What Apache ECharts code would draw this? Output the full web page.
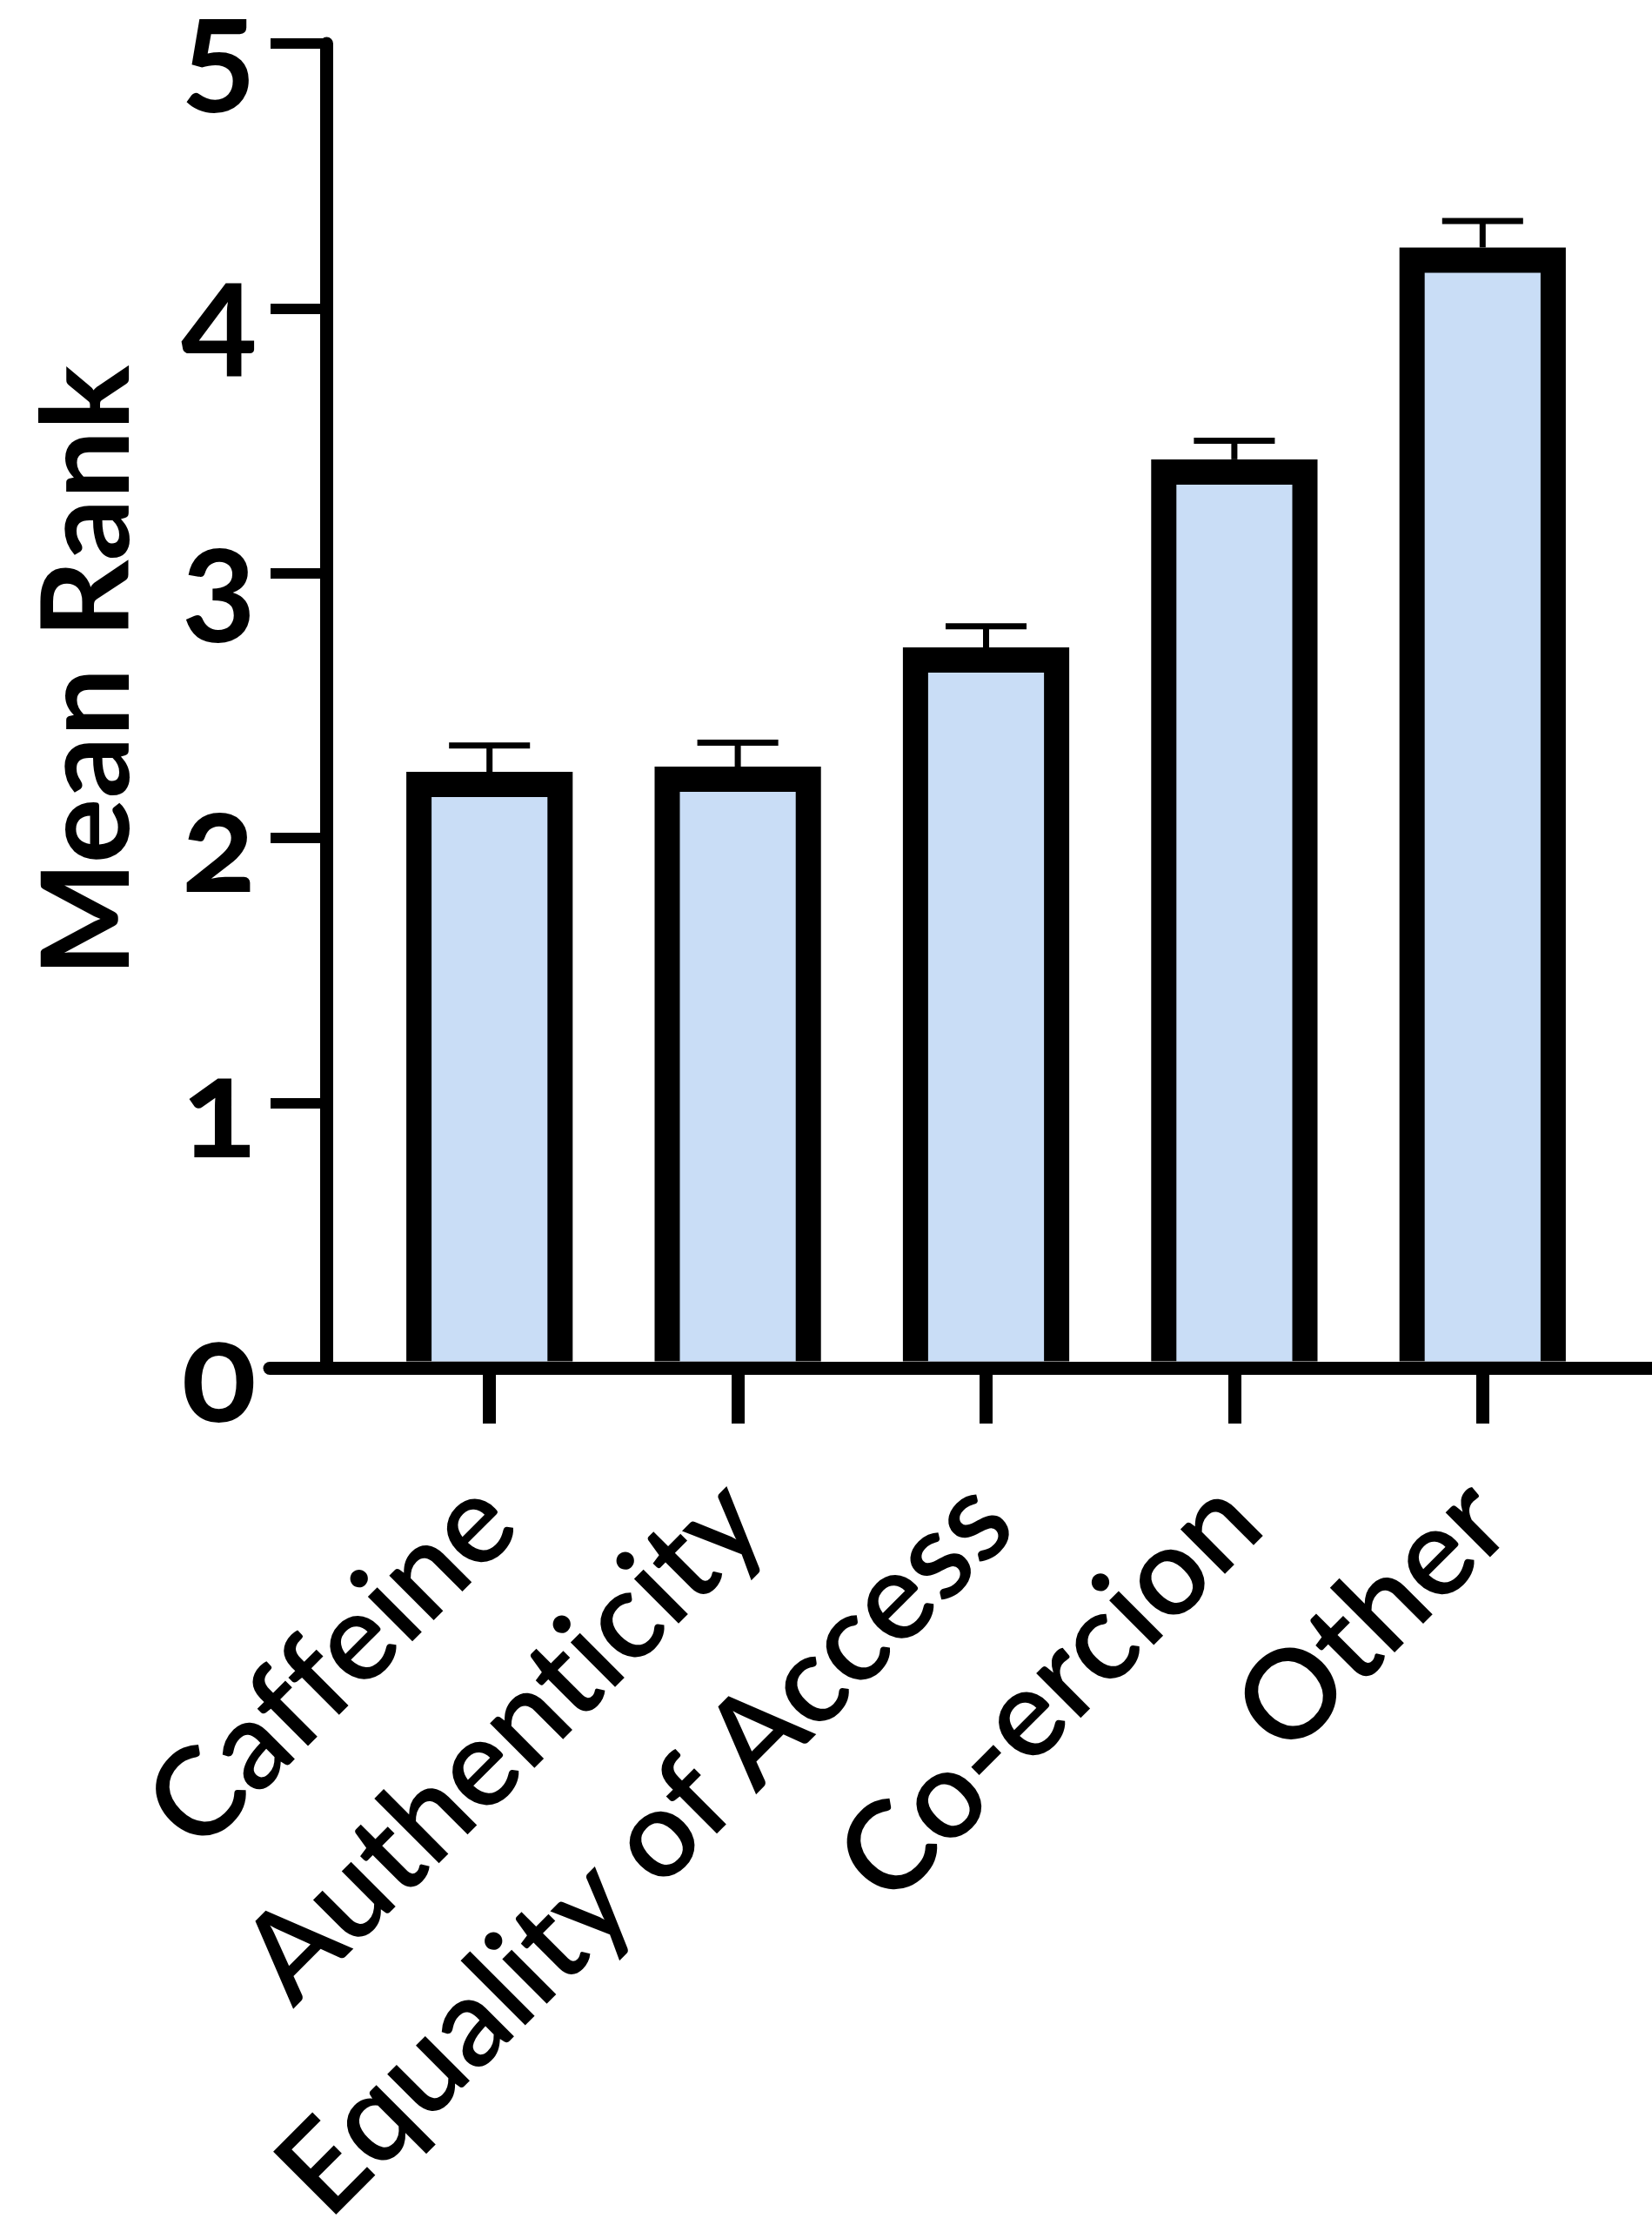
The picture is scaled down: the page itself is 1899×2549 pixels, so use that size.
<!DOCTYPE html>
<html>
<head>
<meta charset="utf-8">
<script src="https://cdn.jsdelivr.net/npm/echarts@6/dist/echarts.min.js"></script>
<style>
  html, body { margin: 0; padding: 0; background: #ffffff; }
  #chart { width: 1899px; height: 2549px; }
  #chart text { font-variant-ligatures: none; font-feature-settings: "liga" 0, "onum" 1; }
</style>
</head>
<body>
<div id="chart"></div>
<script>
// ---- data ----
const categories = ['Caffeine', 'Authenticity', 'Equality of Access', 'Co-ercion', 'Other'];
const meanRank = [2.25, 2.27, 2.72, 3.43, 4.23];
const semRank = [0.10, 0.09, 0.08, 0.07, 0.10];
const yTicks = [0, 1, 2, 3, 4, 5];

// ---- styles ----
const FONT = "Lato, 'Noto Sans', sans-serif";
const BAR_FILL = '#C9DDF6';
const BAR_BORDER = 29;
const AXIS_W = 15;

const chart = echarts.init(document.getElementById('chart'), null, { renderer: 'svg' });

const option = {
  backgroundColor: '#ffffff',
  animation: false,
  grid: [
    { left: 420, right: 52, top: 50, bottom: 977, containLabel: false, outerBoundsMode: 'none' },
    { left: 310, right: 0, top: 50, bottom: 977, containLabel: false, outerBoundsMode: 'none' }
  ],
  xAxis: [
    {
      type: 'category',
      gridIndex: 0,
      data: categories,
      boundaryGap: true,
      axisLine: { show: false },
      axisTick: { show: true, alignWithLabel: true, length: 64, lineStyle: { color: '#000', width: 15 } },
      axisLabel: {
        interval: 0,
        rotate: 45,
        margin: 148,
        color: '#000',
        fontFamily: FONT,
        fontSize: 142,
        fontWeight: 600,
        lineHeight: 110
      },
      splitLine: { show: false }
    },
    {
      type: 'value',
      gridIndex: 1,
      min: 0,
      max: 1,
      axisLine: { show: true, onZero: false, lineStyle: { color: '#000', width: AXIS_W } },
      axisTick: { show: false },
      axisLabel: { show: false },
      splitLine: { show: false }
    }
  ],
  yAxis: [
    {
      type: 'value',
      gridIndex: 0,
      min: 0,
      max: 5,
      interval: 1,
      offset: 45,
      name: 'Mean Rank',
      nameLocation: 'middle',
      nameRotate: 90,
      nameGap: 236,
      nameTextStyle: {
        color: '#000',
        fontFamily: FONT,
        fontSize: 140,
        fontWeight: 'bold',
        lineHeight: 90,
        padding: [0, 0, 0, 80]
      },
      axisLine: { show: true, lineStyle: { color: '#000', width: AXIS_W } },
      axisTick: { show: true, length: 64, lineStyle: { color: '#000', width: 12 } },
      axisLabel: {
        margin: 80,
        color: '#000',
        fontFamily: FONT,
        fontSize: 160,
        fontWeight: 'bold',
        lineHeight: 90,
        formatter: function (v) { return yTicks.indexOf(v) >= 0 ? String(v) : ''; }
      },
      splitLine: { show: false }
    },
    {
      type: 'value',
      gridIndex: 1,
      min: 0,
      max: 1,
      show: false
    }
  ],
  series: [
    {
      type: 'custom',
      xAxisIndex: 0,
      yAxisIndex: 0,
      clip: false,
      data: meanRank.map(function (m, i) { return [i, m, semRank[i]]; }),
      renderItem: function (params, api) {
        const idx = api.value(0);
        const v = api.value(1);
        const e = api.value(2);
        const top = api.coord([idx, v]);
        const base = api.coord([idx, 0]);
        const err = api.coord([idx, v + e]);
        const band = api.size([1, 0])[0];
        const w = band * 0.67;
        const capW = band * 0.326;
        const bottom = base[1] - AXIS_W / 2;
        return {
          type: 'group',
          children: [
            {
              type: 'line',
              shape: { x1: top[0], y1: err[1], x2: top[0], y2: top[1] },
              style: { stroke: '#000', lineWidth: 7 }
            },
            {
              type: 'line',
              shape: { x1: top[0] - capW / 2, y1: err[1], x2: top[0] + capW / 2, y2: err[1] },
              style: { stroke: '#000', lineWidth: 7 }
            },
            {
              type: 'rect',
              shape: { x: top[0] - w / 2, y: top[1], width: w, height: bottom - top[1] },
              style: { fill: '#000' }
            },
            {
              type: 'rect',
              shape: { x: top[0] - w / 2 + BAR_BORDER, y: top[1] + BAR_BORDER, width: w - 2 * BAR_BORDER, height: bottom - top[1] - BAR_BORDER },
              style: { fill: BAR_FILL }
            }
          ]
        };
      }
    }
  ]
};

chart.setOption(option);
</script>
</body>
</html>
